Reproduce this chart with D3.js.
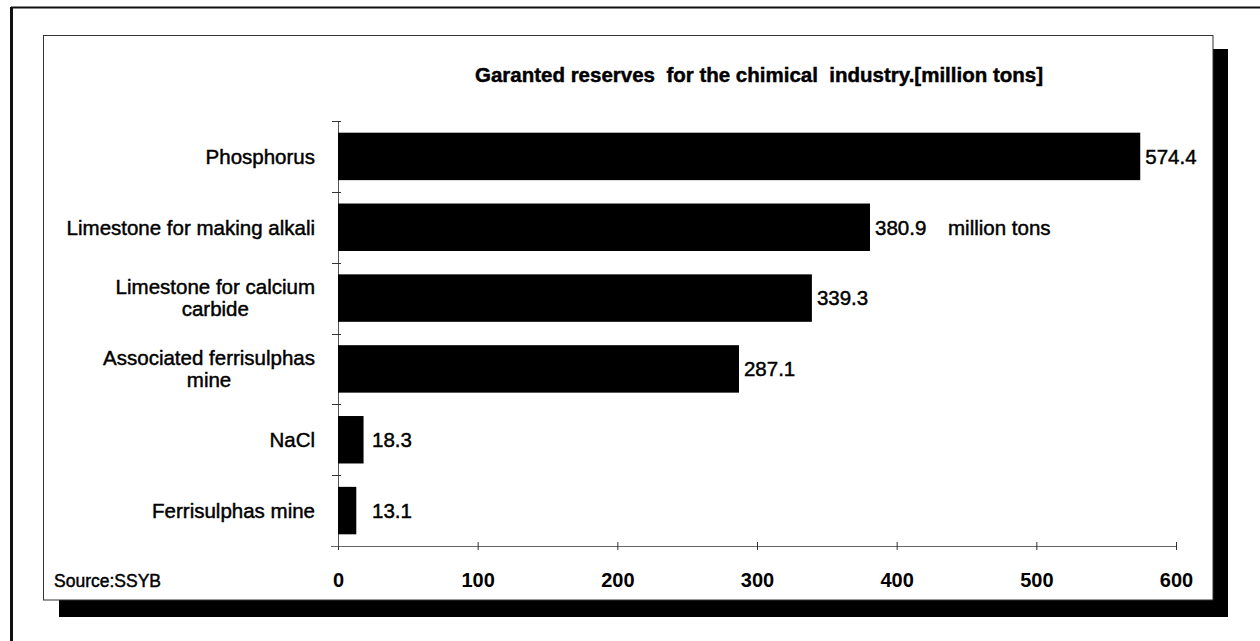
<!DOCTYPE html>
<html>
<head>
<meta charset="utf-8">
<script src="https://cdn.jsdelivr.net/npm/d3@7"></script>
<style>
  html, body { margin: 0; padding: 0; background: #fff; }
  svg { display: block; font-family: "Liberation Sans", Arial, Helvetica, sans-serif; }
  .heavy { stroke: #000; stroke-width: 0.45px; paint-order: fill; }
</style>
</head>
<body>
<svg id="chart" width="1260" height="641"></svg>
<script>
// ---- data ----
const categories = [
  "Phosphorus",
  "Limestone for making alkali",
  "Limestone for calcium carbide",
  "Associated ferrisulphas mine",
  "NaCl",
  "Ferrisulphas mine"
];
const labelLines = [
  ["Phosphorus"],
  ["Limestone for making alkali"],
  ["Limestone for calcium", "carbide"],
  ["Associated ferrisulphas", "mine"],
  ["NaCl"],
  ["Ferrisulphas mine"]
];
const values = [574.4, 380.9, 339.3, 287.1, 18.3, 13.1];
const xTicks = [0, 100, 200, 300, 400, 500, 600];
const titleText = "Garanted reserves  for the chimical  industry.[million tons]";
const unitText = "million tons";
const sourceText = "Source:SSYB";

// ---- layout ----
const svg = d3.select("#chart");
const x = d3.scaleLinear().domain([0, 600]).range([338, 1176]);
const y = d3.scaleBand().domain(categories).range([121, 546])
  .paddingInner(0.33).paddingOuter(0.165);

// outer scanned page frame (top + left)
svg.append("line").attr("x1", 11).attr("y1", 7.5).attr("x2", 1260).attr("y2", 7.5)
  .attr("stroke", "#111").attr("stroke-width", 2);
svg.append("line").attr("x1", 11.5).attr("y1", 7).attr("x2", 11.5).attr("y2", 641)
  .attr("stroke", "#111").attr("stroke-width", 3);

// shadow of the chart box
svg.append("rect").attr("x", 1213).attr("y", 49).attr("width", 15).attr("height", 568).attr("fill", "#000");
svg.append("rect").attr("x", 59).attr("y", 600).attr("width", 1169).attr("height", 17).attr("fill", "#000");

// chart box
svg.append("rect").attr("x", 43.5).attr("y", 35.5).attr("width", 1169.5).attr("height", 564.5)
  .attr("fill", "#fff").attr("stroke", "#333").attr("stroke-width", 1);

// title
svg.append("text")
  .attr("class", "heavy")
  .attr("x", 759).attr("y", 82)
  .attr("text-anchor", "middle")
  .style("white-space", "pre")
  .attr("font-size", 20.5).attr("font-weight", "bold")
  .text(titleText);

// x axis
const xAxis = d3.axisBottom(x).tickValues(xTicks).tickSize(4).tickPadding(0).tickFormat(d3.format("d"));
const gx = svg.append("g").attr("transform", "translate(0,546)").call(xAxis);
gx.select(".domain").attr("stroke", "#666").attr("d", "M331,0.5H1176");
gx.selectAll(".tick line").attr("y1", -4).attr("y2", 4).attr("stroke", "#333");
gx.selectAll(".tick text").attr("y", 41).attr("dy", 0)
  .attr("font-size", 20).attr("font-weight", "bold").attr("fill", "#000")
  .attr("font-family", "Liberation Sans, Arial, sans-serif");

// y axis line + boundary ticks
const y0 = y.range()[0], step = y.step();
svg.append("line").attr("x1", 338.5).attr("y1", y0).attr("x2", 338.5).attr("y2", 546)
  .attr("stroke", "#555").attr("stroke-width", 1);
svg.selectAll(".ytick").data(d3.range(categories.length)).enter().append("line")
  .attr("class", "ytick")
  .attr("x1", 332).attr("x2", 341)
  .attr("y1", i => Math.round(y0 + i * step) + 0.5)
  .attr("y2", i => Math.round(y0 + i * step) + 0.5)
  .attr("stroke", "#333");

// bars
svg.selectAll(".bar").data(categories).enter().append("rect")
  .attr("class", "bar")
  .attr("x", x(0))
  .attr("y", d => y(d))
  .attr("width", (d, i) => x(values[i]) - x(0))
  .attr("height", y.bandwidth())
  .attr("fill", "#000");

// category labels (block right-aligned, lines centered)
const labelRight = 315;
const lineH = 22;
categories.forEach((c, i) => {
  const lines = labelLines[i];
  const cy = y(c) + y.bandwidth() / 2;
  const g = svg.append("g");
  const texts = lines.map((ln, k) => g.append("text")
    .attr("class", "heavy")
    .attr("y", cy + (k - (lines.length - 1) / 2) * lineH)
    .attr("dy", "0.36em")
    .attr("font-size", 20.5)
    .attr("text-anchor", "middle")
    .text(ln));
  const maxW = d3.max(texts, t => t.node().getComputedTextLength());
  texts.forEach(t => t.attr("x", labelRight - maxW / 2));
});

// value labels
categories.forEach((c, i) => {
  const lx = Math.max(x(values[i]) + 5, x(0) + 34);
  svg.append("text")
    .attr("class", "heavy")
    .attr("x", lx)
    .attr("y", y(c) + y.bandwidth() / 2)
    .attr("dy", "0.36em")
    .attr("font-size", 20.5)
    .text(values[i].toFixed(1));
});

// unit label next to second bar
svg.append("text")
  .attr("class", "heavy")
  .attr("x", 948)
  .attr("y", y(categories[1]) + y.bandwidth() / 2)
  .attr("dy", "0.36em")
  .attr("font-size", 20.5)
  .text(unitText);

// source
svg.append("text")
  .attr("class", "heavy")
  .attr("x", 54).attr("y", 581).attr("dy", "0.36em")
  .attr("font-size", 17.5)
  .text(sourceText);
</script>
</body>
</html>
